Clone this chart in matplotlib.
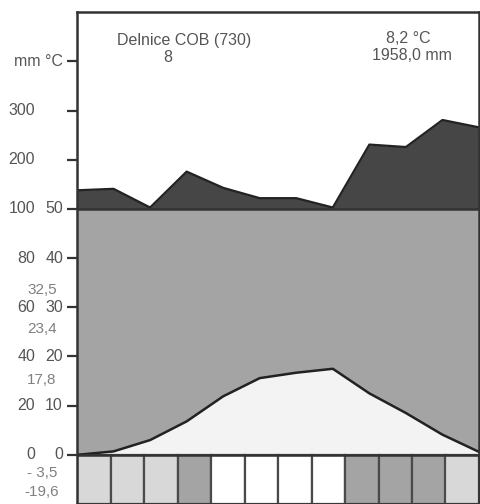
import numpy as np
import matplotlib
matplotlib.use("Agg")
import matplotlib.pyplot as plt
from matplotlib.patches import Rectangle

plt.rcParams['font.family'] = ['Liberation Sans', 'DejaVu Sans']

# climate data, Delnice
months = ['Jan', 'Feb', 'Mar', 'Apr', 'May', 'Jun', 'Jul', 'Aug', 'Sep', 'Oct', 'Nov', 'Dec']
temp = [0.0, 0.7, 3.0, 6.8, 11.9, 15.6, 16.7, 17.5, 12.5, 8.5, 4.1, 0.6]
precip = [138, 141, 103, 176, 143, 122, 122, 103, 231, 226, 281, 266]
frost_class = ['probable', 'probable', 'probable', 'possible', 'none', 'none',
               'none', 'none', 'possible', 'possible', 'possible', 'probable']

station = 'Delnice COB (730)'
years = '8'
mean_temp = '8,2 °C'
total_precip = '1958,0 mm'

mm_ticks = [0, 20, 40, 60, 80, 100, 200, 300]
degc_ticks = [0, 10, 20, 30, 40, 50]
extremes = ['32,5', '23,4', '17,8', '- 3,5', '-19,6']
extreme_pos = [33.5, 25.5, 15.2, -3.7, -7.6]


def scale_mm(p):
    # Walter-Lieth: 20 mm = 10 degC up to 100 mm, above that 100 mm per 10 units
    p = np.asarray(p, dtype=float)
    return np.where(p <= 100, p / 2.0, 50 + (p - 100) / 10.0)


box_colors = {'probable': '#d8d8d8', 'possible': '#a4a4a4', 'none': '#ffffff'}

fig = plt.figure(figsize=(4.8, 5.04), dpi=100)
ax = fig.add_axes([77 / 480, 0.0, 402 / 480, 1 - 12.3 / 504])
ax.set_xlim(0, 11)
ax.set_ylim(-10, 90)

x = np.arange(len(months))
t = np.array(temp)
p = scale_mm(precip)

ax.fill_between(x, 0, t, color='#f3f3f3', lw=0)
ax.fill_between(x, t, 50, color='#a4a4a4', lw=0)
ax.fill_between(x, 50, p, color='#464646', lw=0)
ax.plot(x, p, color='#222222', lw=1.6)
ax.plot(x, t, color='#222222', lw=1.8)
ax.axhline(50, color='#333333', lw=1.8)
ax.axhline(0, color='#333333', lw=1.8)

# month boxes below zero
w = 11 / 12
for i, c in enumerate(frost_class):
    ax.add_patch(Rectangle((i * w, -10), w, 10, facecolor=box_colors[c],
                           edgecolor='#4a4a4a', lw=1.6))

for s in ax.spines.values():
    s.set_color('#333333')
    s.set_linewidth(1.8)

ax.set_xticks([])
ax.set_yticks([0, 10, 20, 30, 40, 50, 60, 70, 80])
ax.set_yticklabels([])
ax.tick_params(axis='y', length=7, width=1.6, color='#333333', direction='out')

txt = dict(fontsize=11.5, color='#555555', va='center')
ytr = ax.get_yaxis_transform()
col1 = (35 - 77) / 402
col2 = (63 - 77) / 402
for v in mm_ticks:
    ax.text(col1, float(scale_mm(v)), str(v), ha='right', transform=ytr, **txt)
for v in degc_ticks:
    ax.text(col2, v, str(v), ha='right', transform=ytr, **txt)
ax.text(col2, 80, 'mm °C', ha='right', transform=ytr, **txt)

for lab, yv in zip(extremes, extreme_pos):
    ax.text((42 - 77) / 402, yv, lab, ha='center', transform=ytr,
            fontsize=11, color='#808080', va='center')

ax.text((184 - 77) / 402, (455 - 40) / 4.92, station, ha='center', transform=ytr, **txt)
ax.text((168 - 77) / 402, (455 - 57) / 4.92, years, ha='center', transform=ytr, **txt)
ax.text((408 - 77) / 402, (455 - 38) / 4.92, mean_temp, ha='center', transform=ytr, **txt)
ax.text((412 - 77) / 402, (455 - 55) / 4.92, total_precip, ha='center', transform=ytr, **txt)

fig.savefig('out.png', dpi=100)
